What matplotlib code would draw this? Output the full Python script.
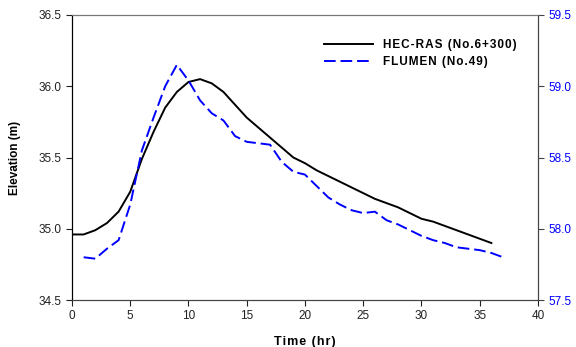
import matplotlib.pyplot as plt

plt.rcParams['font.family'] = ['Liberation Sans', 'DejaVu Sans']

# HEC-RAS (No.6+300), left axis
hec_time = list(range(0, 37))
hec_elev = [34.96, 34.96, 34.99, 35.04, 35.12, 35.26, 35.49, 35.68, 35.85, 35.96,
            36.03, 36.05, 36.02, 35.96, 35.87, 35.78, 35.71, 35.64, 35.57, 35.50,
            35.46, 35.41, 35.37, 35.33, 35.29, 35.25, 35.21, 35.18, 35.15, 35.11,
            35.07, 35.05, 35.02, 34.99, 34.96, 34.93, 34.90]

# FLUMEN (No.49), right axis
flu_time = list(range(1, 38))
flu_elev = [57.80, 57.79, 57.86, 57.92, 58.17, 58.55, 58.78, 59.00, 59.15, 59.04,
            58.90, 58.81, 58.76, 58.65, 58.61, 58.60, 58.59, 58.47, 58.40, 58.38,
            58.30, 58.22, 58.17, 58.13, 58.11, 58.12, 58.06, 58.03, 57.99, 57.95,
            57.92, 57.90, 57.87, 57.86, 57.85, 57.83, 57.80]


def spaced(s):
    # imitate the wide letter spacing of the original labels
    return '\u200a'.join(s)


fig = plt.figure(figsize=(5.76, 3.47), dpi=100)
ax = fig.add_axes([0.125, 0.1354, 0.809, 0.8214])
ax2 = ax.twinx()

l1, = ax.plot(hec_time, hec_elev, color='black', lw=1.4, label=spaced('HEC-RAS (No.6+300)'))
l2, = ax2.plot(flu_time, flu_elev, color='blue', lw=1.4, ls=(0, (6, 2.5)), label=spaced('FLUMEN (No.49)'))

ax.set_xlim(0, 40)
ax.set_ylim(34.5, 36.5)
ax2.set_ylim(57.5, 59.5)
ax.set_xticks(range(0, 41, 5))
ax.set_yticks([34.5, 35.0, 35.5, 36.0, 36.5])
ax2.set_yticks([57.5, 58.0, 58.5, 59.0, 59.5])
ax.yaxis.set_major_formatter(plt.FormatStrFormatter('%.1f'))
ax2.yaxis.set_major_formatter(plt.FormatStrFormatter('%.1f'))

ax.tick_params(direction='out', length=4, labelsize=8.5, colors='#222222', width=0.8)
ax2.tick_params(direction='out', length=4, labelsize=8.5, labelcolor='blue', color='#444444', width=0.8)

for a in (ax, ax2):
    a.spines['top'].set_color('#777777')
    a.spines['right'].set_color('#444444')
    a.spines['left'].set_color('black')
    a.spines['bottom'].set_color('#444444')

ax.set_xlabel(spaced('Time (hr)'), fontsize=9, fontweight='bold', labelpad=10)
ax.set_ylabel('Elevation (m)', fontsize=8.5, fontweight='bold', labelpad=13)

ax.legend(handles=[l1, l2], loc='upper left', bbox_to_anchor=(0.541, 0.916), frameon=False,
          borderpad=0, borderaxespad=0, prop={'size': 8.5, 'weight': 'bold'},
          handlelength=4.1, handletextpad=0.9, labelspacing=0.4)

fig.savefig('out.png', dpi=100)
